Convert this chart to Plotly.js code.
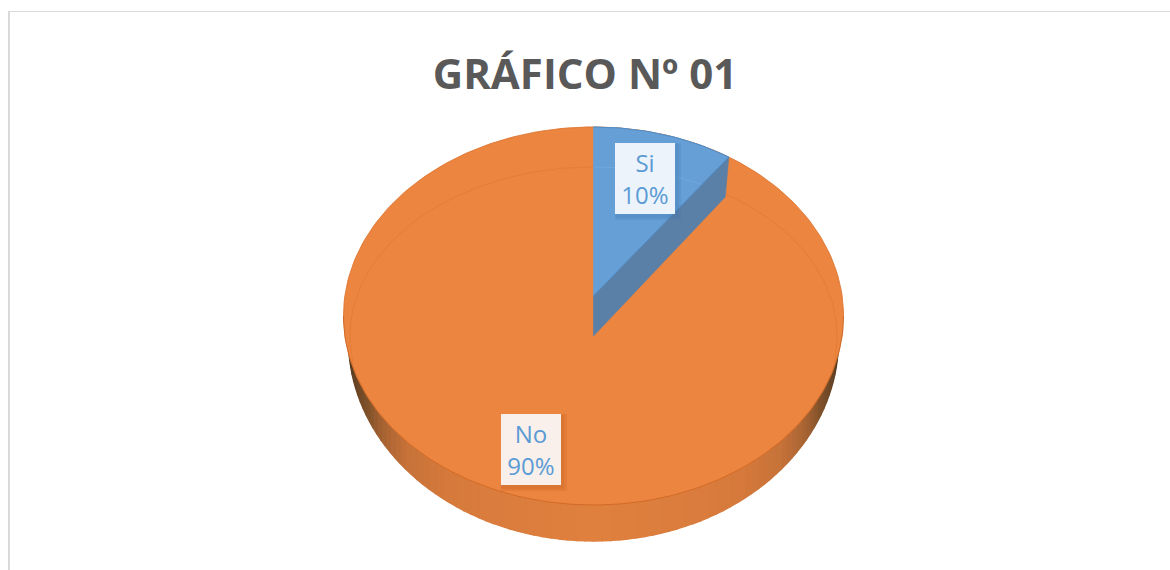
<!DOCTYPE html>
<html><head><meta charset="utf-8">
<script src="https://cdn.plot.ly/plotly-3.0.1.min.js"></script>
<style>html,body{margin:0;padding:0;background:#fff}#chart{width:1170px;height:570px}</style>
</head><body><div id="chart"></div>
<script>
// ---- data ----
const categories = ['Si', 'No'];
const values = [10, 90];
const chartTitle = 'GRÁFICO Nº 01';

// ---- geometry of the tilted pie (styles, not data) ----
const cx = 593.5;
const face = {cy: 316, rx: 250, ry: 189};
const rim = {cy: 336, rx: 243.5, ry: 169};
const base = {cy: 340, rx: 245, ry: 201};
const lift = 40;               // raised inner corner of the first slice
const foreshorten = 0.91;      // perspective compression of the slice sweep

const total = values.reduce((a, b) => a + b, 0);
const sweep = values[0] / total * 2 * Math.PI * foreshorten;
const pt = (e, t) => [cx + e.rx * Math.sin(t), e.cy - e.ry * Math.cos(t)];
function arc(e, a, b, n) {
  const xs = [], ys = [];
  for (let i = 0; i <= n; i++) {
    const p = pt(e, a + (b - a) * i / n);
    xs.push(p[0]); ys.push(p[1]);
  }
  return [xs, ys];
}
const traces = [];
function poly(xs, ys, color, name, w) {
  traces.push({type: 'scatter', mode: 'lines', x: xs, y: ys, fill: 'toself', fillcolor: color,
    line: {color: color, width: w === undefined ? 0.6 : w}, hoverinfo: 'skip', showlegend: false, name: name});
}
function stroke(xs, ys, color, w) {
  traces.push({type: 'scatter', mode: 'lines', x: xs, y: ys,
    line: {color: color, width: w}, hoverinfo: 'skip', showlegend: false});
}

// side wall: vertical strips, darker toward the silhouette
const stops = [[0,224,128,62],[36,214,122,60],[50,198,114,57],[60,165,98,50],[68,125,80,42],[90,70,50,30]];
function shade(d) {
  for (let i = 1; i < stops.length; i++) {
    if (d <= stops[i][0]) {
      const a = stops[i-1], b = stops[i], f = (d - a[0]) / (b[0] - a[0]);
      return 'rgb(' + [1,2,3].map(k => Math.round(a[k] + (b[k] - a[k]) * f)).join(',') + ')';
    }
  }
  return 'rgb(70,50,30)';
}
const stripCount = 90;
for (let i = 0; i < stripCount; i++) {
  const t1 = Math.PI * (0.5 + i / stripCount), t2 = Math.PI * (0.5 + (i + 1) / stripCount);
  const b1 = pt(base, t1), b2 = pt(base, t2);
  const top = face.cy;
  const deg = Math.abs((t1 + t2) / 2 - Math.PI) * 180 / Math.PI;
  poly([b1[0], b2[0], b2[0], b1[0], b1[0]], [top, top, b2[1], b1[1], top], shade(deg), 'side', 1.4);
}

// top face (second category)
const whole = arc(face, 0, 2 * Math.PI, 240);
poly(whole[0], whole[1], '#EB853F', categories[1]);
const faceLow = arc(face, Math.PI * 0.5, Math.PI * 1.5, 120);
stroke(faceLow[0], faceLow[1], '#D06A26', 1);
const faceHigh = arc(face, -Math.PI * 0.5, Math.PI * 0.5, 120);
stroke(faceHigh[0], faceHigh[1], 'rgba(217,112,44,0.8)', 0.8);

// inner bevel ellipse (upper part only, fading into the face)
const limitX = pt(rim, sweep)[0];
const bevelUpper = arc(rim, Math.PI * 1.45, Math.PI * 2.55, 120);
const keep = bevelUpper[0].map(x => x <= cx || x >= limitX);
stroke(bevelUpper[0].filter((x, i) => keep[i] && x < cx), bevelUpper[1].filter((y, i) => keep[i] && bevelUpper[0][i] < cx), 'rgba(222,112,44,0.55)', 0.8);
stroke(bevelUpper[0].filter((x, i) => keep[i] && x >= cx), bevelUpper[1].filter((y, i) => keep[i] && bevelUpper[0][i] >= cx), 'rgba(222,112,44,0.55)', 0.8);

// first category: raised face + exposed wall
const blueArc = arc(face, 0, sweep, 30);
const apexUp = [cx, rim.cy - lift], apexDown = [cx, rim.cy];
poly(blueArc[0].concat([apexUp[0], blueArc[0][0]]), blueArc[1].concat([apexUp[1], blueArc[1][0]]), '#659FD6', categories[0]);
stroke(blueArc[0], blueArc[1], '#4F8CC9', 1);
const bevelBlue = arc(rim, 0, sweep, 20);
stroke(bevelBlue[0], bevelBlue[1], 'rgba(140,185,228,0.4)', 0.8);
const outerCorner = pt(face, sweep), innerCorner = pt(rim, sweep);
poly([apexUp[0], outerCorner[0], innerCorner[0], apexDown[0], apexUp[0]],
     [apexUp[1], outerCorner[1], innerCorner[1] + 3, apexDown[1], apexUp[1]], '#5B80A8', categories[0] + ' wall');
stroke([apexUp[0], outerCorner[0]], [apexUp[1], outerCorner[1]], '#4F8CC9', 1);

// labels
const labelBoxes = [
  {x: 645, y: 178.5, bg: '#EDF3FA', shadow: 'rgba(60,110,170,0.16)'},
  {x: 530.5, y: 449.5, bg: '#F9F0EB', shadow: 'rgba(190,90,30,0.2)'}
];
const annotations = [];
categories.forEach((c, i) => {
  const b = labelBoxes[i];
  const txt = c + '<br>' + Math.round(values[i] / total * 100) + '%';
  [[3, 3, 66, 77], [2, 2, 63, 74]].forEach(s => annotations.push({
    x: b.x + s[0], y: b.y + s[1], xref: 'x', yref: 'y', showarrow: false, text: ' ',
    width: s[2], height: s[3], bgcolor: b.shadow, borderpad: 0, borderwidth: 0, xanchor: 'center', yanchor: 'middle'
  }));
  annotations.push({
    x: b.x, y: b.y, xref: 'x', yref: 'y', showarrow: false, text: txt, align: 'center', valign: 'middle',
    width: 60, height: 71, bgcolor: b.bg, borderpad: 0, borderwidth: 0, xanchor: 'center', yanchor: 'middle',
    font: {family: '"Open Sans", "Noto Sans", sans-serif', size: 24, color: '#5B9BD5'}
  });
});

const layout = {
  width: 1170, height: 570, margin: {l: 0, r: 0, t: 0, b: 0},
  paper_bgcolor: '#ffffff', plot_bgcolor: '#ffffff', showlegend: false,
  title: {text: chartTitle, x: 585 / 1170, y: 1 - 74 / 570, xref: 'paper', yref: 'paper', xanchor: 'center', yanchor: 'middle',
    font: {family: '"Open Sans", "Noto Sans", sans-serif', size: 42, color: '#595959', weight: 700}},
  xaxis: {range: [0, 1170], visible: false, fixedrange: true},
  yaxis: {range: [570, 0], visible: false, fixedrange: true},
  annotations: annotations,
  shapes: [
    {type: 'line', xref: 'x', yref: 'y', x0: 9, x1: 9, y0: 11.5, y1: 570, line: {color: '#D9D9D9', width: 2}},
    {type: 'line', xref: 'x', yref: 'y', x0: 8, x1: 1170, y0: 11.5, y1: 11.5, line: {color: '#D9D9D9', width: 1.2}}
  ]
};
Plotly.newPlot('chart', traces, layout, {displayModeBar: false, staticPlot: true});
</script></body></html>
